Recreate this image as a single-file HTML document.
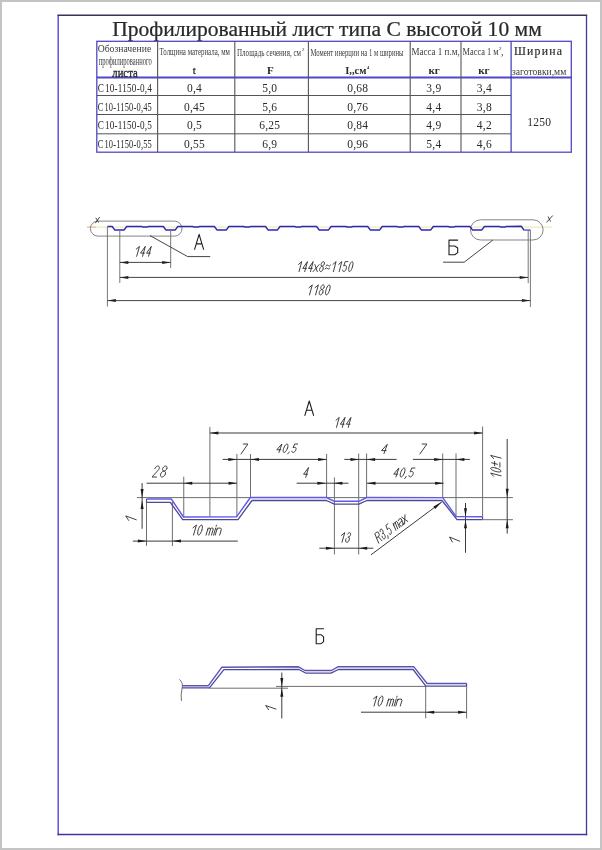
<!DOCTYPE html>
<html><head><meta charset="utf-8">
<style>
html,body{margin:0;padding:0;background:#fff;}
body{width:602px;height:850px;overflow:hidden;position:relative;}
svg{position:absolute;left:0;top:0;will-change:transform;filter:blur(0.3px);}
.s{font-family:"Liberation Serif",serif;fill:#2a2a2a;}
.d{font-family:"Liberation Sans",sans-serif;font-style:italic;fill:#333;}
</style></head><body>
<svg width="602" height="850" viewBox="0 0 602 850">
<!-- gray page border -->
<rect x="0" y="0" width="602" height="850" fill="#c4c4c4"/>
<rect x="2" y="2" width="598" height="846" fill="#fff"/>
<!-- frame -->
<line x1="58.2" y1="15" x2="58.2" y2="835.2" stroke="#5e50d8" stroke-width="1.5"/>
<line x1="586.5" y1="15" x2="586.5" y2="835.2" stroke="#3e3c98" stroke-width="1.3"/>
<line x1="57.5" y1="834.5" x2="587.2" y2="834.5" stroke="#3c35a0" stroke-width="1.4"/>
<line x1="57.5" y1="15.2" x2="587.2" y2="15.2" stroke="#3a3258" stroke-width="1.4"/>

<!-- title -->
<text class="s" x="112.2" y="36" font-size="21" textLength="429.6" lengthAdjust="spacingAndGlyphs" stroke="#111" stroke-width="0.2">Профилированный лист типа С высотой 10 мм</text>

<!-- table -->
<g stroke="#5048c8" stroke-width="1.3" fill="none">
<rect x="96.8" y="41.3" width="474.5" height="110.9"/>
<line x1="96.8" y1="77.5" x2="571.3" y2="77.5" stroke-width="2"/>
<line x1="96.8" y1="95.5" x2="511" y2="95.5" stroke="#555" stroke-width="1"/>
<line x1="96.8" y1="114.5" x2="511" y2="114.5" stroke="#555" stroke-width="1"/>
<line x1="96.8" y1="133.8" x2="511" y2="133.8" stroke="#555" stroke-width="1"/>
</g>
<g stroke="#555" stroke-width="1.1">
<line x1="157.6" y1="41.2" x2="157.6" y2="152"/>
<line x1="234.8" y1="41.2" x2="234.8" y2="152"/>
<line x1="308.4" y1="41.2" x2="308.4" y2="152"/>
<line x1="410.2" y1="41.2" x2="410.2" y2="152"/>
<line x1="461" y1="41.2" x2="461" y2="152"/>
</g>
<line x1="511.1" y1="41.2" x2="511.1" y2="152" stroke="#3c38b0" stroke-width="1.2"/>

<g class="s" font-size="11.5" letter-spacing="0.25">
<text x="97.7" y="91.6" textLength="54.3" lengthAdjust="spacingAndGlyphs">С 10-1150-0,4</text>
<text x="194.5" y="91.6" text-anchor="middle">0,4</text>
<text x="269.7" y="91.6" text-anchor="middle">5,0</text>
<text x="357.7" y="91.6" text-anchor="middle">0,68</text>
<text x="433.9" y="91.6" text-anchor="middle">3,9</text>
<text x="484.4" y="91.6" text-anchor="middle">3,4</text>
<text x="97.7" y="110.5" textLength="54.3" lengthAdjust="spacingAndGlyphs">С 10-1150-0,45</text>
<text x="194.5" y="110.5" text-anchor="middle">0,45</text>
<text x="269.7" y="110.5" text-anchor="middle">5,6</text>
<text x="357.7" y="110.5" text-anchor="middle">0,76</text>
<text x="433.9" y="110.5" text-anchor="middle">4,4</text>
<text x="484.4" y="110.5" text-anchor="middle">3,8</text>
<text x="97.7" y="129.4" textLength="54.3" lengthAdjust="spacingAndGlyphs">С 10-1150-0,5</text>
<text x="194.5" y="129.4" text-anchor="middle">0,5</text>
<text x="269.7" y="129.4" text-anchor="middle">6,25</text>
<text x="357.7" y="129.4" text-anchor="middle">0,84</text>
<text x="433.9" y="129.4" text-anchor="middle">4,9</text>
<text x="484.4" y="129.4" text-anchor="middle">4,2</text>
<text x="97.7" y="148.3" textLength="54.3" lengthAdjust="spacingAndGlyphs">С 10-1150-0,55</text>
<text x="194.5" y="148.3" text-anchor="middle">0,55</text>
<text x="269.7" y="148.3" text-anchor="middle">6,9</text>
<text x="357.7" y="148.3" text-anchor="middle">0,96</text>
<text x="433.9" y="148.3" text-anchor="middle">5,4</text>
<text x="484.4" y="148.3" text-anchor="middle">4,6</text>
<text x="539.3" y="126.4" text-anchor="middle">1250</text>
</g>
<g class="s">
<text fill="#3c3c3c" x="97.7" y="52" font-size="11" textLength="53.5" lengthAdjust="spacingAndGlyphs">Обозначение</text>
<text fill="#3c3c3c" x="98.8" y="64.6" font-size="11.5" textLength="52.9" lengthAdjust="spacingAndGlyphs">профилированного</text>
<text x="112.3" y="76.6" font-size="13" stroke="#2a2a2a" stroke-width="0.35" textLength="25.4" lengthAdjust="spacingAndGlyphs">листа</text>
<text fill="#3c3c3c" x="159.6" y="54.8" font-size="10" textLength="70.4" lengthAdjust="spacingAndGlyphs">Толщина материала, мм</text>
<text x="194.4" y="73.8" font-size="11" stroke="#2a2a2a" stroke-width="0.3" text-anchor="middle">t</text>
<text fill="#3c3c3c" x="237" y="55.5" font-size="10" textLength="64" lengthAdjust="spacingAndGlyphs">Площадь сечения, см</text>
<text x="302" y="51" font-size="5">2</text>
<text x="270.4" y="74" font-size="11" font-weight="bold" text-anchor="middle">F</text>
<text fill="#3c3c3c" x="310.5" y="55.5" font-size="10" textLength="93.1" lengthAdjust="spacingAndGlyphs">Момент инерции на 1 м ширины</text>
<text x="345.2" y="74" font-size="11" font-weight="bold" textLength="21.3" lengthAdjust="spacingAndGlyphs">I,,см</text>
<text x="366.8" y="68.5" font-size="5" font-weight="bold">4</text>
<text fill="#3c3c3c" x="411.4" y="55.2" font-size="10.3" textLength="48.3" lengthAdjust="spacingAndGlyphs">Масса 1 п.м,</text>
<text x="434.1" y="74.3" font-size="11" font-weight="bold" text-anchor="middle">кг</text>
<text fill="#3c3c3c" x="462.6" y="55.2" font-size="10.3" textLength="36" lengthAdjust="spacingAndGlyphs">Масса 1 м</text>
<text x="499" y="50" font-size="5">2</text>
<text x="501" y="55" font-size="9.5">,</text>
<text x="483.8" y="74.3" font-size="11" font-weight="bold" text-anchor="middle">кг</text>
<text x="514" y="54.9" font-size="11.8" textLength="48" lengthAdjust="spacing" stroke="#2a2a2a" stroke-width="0.15">Ширина</text>
<text fill="#3c3c3c" x="512" y="75.2" font-size="11" textLength="54.3" lengthAdjust="spacingAndGlyphs">заготовки,мм</text>
</g>
<!-- TOP VIEW -->
<line x1="87" y1="227.2" x2="552" y2="227.2" stroke="#f2eab8" stroke-width="1.2"/>
<line x1="87" y1="227.2" x2="96" y2="227.2" stroke="#e6c49a" stroke-width="1.2"/>
<g fill="none" stroke="#858585" stroke-width="1">
<path d="M97.9,221.1 L174.5,221.1 A7.5,7.5 0 0 1 174.5,236.1 L97.9,236.1 A7.5,7.5 0 0 1 97.9,221.1 Z"/>
<path d="M480.6,219.8 L533,219.8 A10.1,10.1 0 0 1 533,240 L480.6,240 A10.1,10.1 0 0 1 480.6,219.8 Z"/>
</g>
<path d="M107.40,226.50 L112.20,226.50 L114.70,229.90 L124.20,229.90 L126.70,226.50 L141.50,226.50 L142.50,226.95 L147.50,226.95 L148.50,226.50 L163.30,226.50 L165.80,229.90 L175.30,229.90 L177.80,226.50 L192.60,226.50 L193.60,226.95 L198.60,226.95 L199.60,226.50 L214.40,226.50 L216.90,229.90 L226.40,229.90 L228.90,226.50 L243.70,226.50 L244.70,226.95 L249.70,226.95 L250.70,226.50 L265.50,226.50 L268.00,229.90 L277.50,229.90 L280.00,226.50 L294.80,226.50 L295.80,226.95 L300.80,226.95 L301.80,226.50 L316.60,226.50 L319.10,229.90 L328.60,229.90 L331.10,226.50 L345.90,226.50 L346.90,226.95 L351.90,226.95 L352.90,226.50 L367.70,226.50 L370.20,229.90 L379.70,229.90 L382.20,226.50 L397.00,226.50 L398.00,226.95 L403.00,226.95 L404.00,226.50 L418.80,226.50 L421.30,229.90 L430.80,229.90 L433.30,226.50 L448.10,226.50 L449.10,226.95 L454.10,226.95 L455.10,226.50 L469.90,226.50 L472.40,229.90 L481.90,229.90 L484.40,226.50 L499.20,226.50 L500.20,226.95 L505.20,226.95 L506.20,226.50 L521.25,226.20 L523.75,229.90 L530.60,230.10" fill="none" stroke="#2c28b4" stroke-width="1.45" stroke-linejoin="round"/>
<g stroke="#777" stroke-width="1" fill="none">
<line x1="107.4" y1="227" x2="107.4" y2="306.5"/>
<line x1="119.8" y1="230" x2="119.8" y2="283"/>
<line x1="170.7" y1="230" x2="170.7" y2="268"/>
<line x1="528.2" y1="230.5" x2="528.2" y2="283.2"/>
<line x1="530.4" y1="230.5" x2="530.4" y2="307"/>
</g>
<g stroke="#444" stroke-width="1" fill="none">
<line x1="119.8" y1="262.4" x2="170.7" y2="262.4"/>
<line x1="119.8" y1="277.4" x2="528.2" y2="277.4"/>
<line x1="107.4" y1="300.6" x2="530.4" y2="300.6"/>
<polyline points="150,235.6 187.7,256.6 210.2,256.6"/>
<polyline points="492.8,240.1 464.2,262.2 443.1,262.2"/>
</g>
<g fill="#222">
<path d="M119.8,262.4 L128.30,260.9 L128.30,263.9 Z"/>
<path d="M170.7,262.4 L162.20,260.9 L162.20,263.9 Z"/>
<path d="M119.8,277.4 L128.30,275.9 L128.30,278.9 Z"/>
<path d="M528.2,277.4 L519.70,275.9 L519.70,278.9 Z"/>
<path d="M107.4,300.6 L115.90,299.1 L115.90,302.1 Z"/>
<path d="M530.4,300.6 L521.90,299.1 L521.90,302.1 Z"/>
</g>
<path d="M136.20,249.17 L139.45,246.40 L136.69,256.30M142.57,256.30 L145.33,246.40 L140.54,253.13 L144.34,253.13M148.54,256.30 L151.30,246.40 L146.51,253.13 L150.31,253.13" fill="none" stroke="#2b2b2b" stroke-width="0.9" stroke-linecap="round" stroke-linejoin="round"/>
<path d="M298.60,264.40 L301.73,261.60 L299.07,271.60M304.75,271.60 L307.41,261.60 L302.78,268.40 L306.45,268.40M310.51,271.60 L313.17,261.60 L308.54,268.40 L312.21,268.40M313.03,271.60 L319.16,264.60M314.89,264.60 L317.29,271.60M324.29,263.90 L324.40,263.19 L324.36,262.55 L324.15,262.04 L323.81,261.71 L323.37,261.60 L322.86,261.71 L322.35,262.04 L321.87,262.55 L321.48,263.19 L321.22,263.90 L321.11,264.61 L321.15,265.25 L321.36,265.76 L321.70,266.09 L322.14,266.20 L322.65,266.09 L323.16,265.76 L323.64,265.25 L324.03,264.61 L324.29,263.90M323.13,268.90 L323.27,268.07 L323.23,267.31 L323.01,266.72 L322.64,266.33 L322.14,266.20 L321.58,266.33 L321.00,266.72 L320.47,267.31 L320.02,268.07 L319.72,268.90 L319.58,269.73 L319.62,270.49 L319.84,271.08 L320.21,271.47 L320.71,271.60 L321.27,271.47 L321.85,271.08 L322.38,270.49 L322.83,269.73 L323.13,268.90M325.82,266.00 L326.94,265.00 L327.96,265.20 L328.65,265.80 L329.45,266.00 L330.57,265.00M325.03,269.00 L326.14,268.00 L327.16,268.20 L327.85,268.80 L328.65,269.00 L329.77,268.00M332.95,264.40 L336.08,261.60 L333.42,271.60M338.71,264.40 L341.84,261.60 L339.18,271.60M347.94,261.60 L345.21,261.60 L343.70,266.00 L344.69,265.50 L344.93,265.51 L345.49,265.40 L345.96,265.61 L346.30,266.11 L346.46,266.85 L346.43,267.75 L346.21,268.73 L345.83,269.69 L345.33,270.52 L344.75,271.16 L344.15,271.52 L343.59,271.59 L343.13,271.34 L342.82,270.81 L342.68,270.05M352.54,266.60 L352.87,265.05 L353.00,263.66 L352.92,262.55 L352.63,261.84 L352.17,261.60 L351.57,261.84 L350.91,262.55 L350.24,263.66 L349.63,265.05 L349.13,266.60 L348.80,268.15 L348.68,269.54 L348.76,270.65 L349.05,271.36 L349.51,271.60 L350.10,271.36 L350.76,270.65 L351.44,269.54 L352.05,268.15 L352.54,266.60" fill="none" stroke="#2b2b2b" stroke-width="0.9" stroke-linecap="round" stroke-linejoin="round"/>
<path d="M309.00,287.70 L312.30,284.90 L309.50,294.90M315.06,287.70 L318.36,284.90 L315.56,294.90M324.14,287.20 L324.26,286.49 L324.21,285.85 L323.99,285.34 L323.63,285.01 L323.16,284.90 L322.63,285.01 L322.09,285.34 L321.59,285.85 L321.18,286.49 L320.90,287.20 L320.78,287.91 L320.83,288.55 L321.05,289.06 L321.41,289.39 L321.88,289.50 L322.41,289.39 L322.95,289.06 L323.45,288.55 L323.86,287.91 L324.14,287.20M322.92,292.20 L323.06,291.37 L323.02,290.61 L322.79,290.02 L322.39,289.63 L321.88,289.50 L321.28,289.63 L320.68,290.02 L320.11,290.61 L319.65,291.37 L319.32,292.20 L319.18,293.03 L319.22,293.79 L319.45,294.38 L319.85,294.77 L320.36,294.90 L320.96,294.77 L321.56,294.38 L322.13,293.79 L322.59,293.03 L322.92,292.20M329.62,289.90 L329.97,288.35 L330.10,286.96 L330.01,285.85 L329.71,285.14 L329.22,284.90 L328.60,285.14 L327.90,285.85 L327.19,286.96 L326.55,288.35 L326.03,289.90 L325.68,291.45 L325.55,292.84 L325.64,293.95 L325.94,294.66 L326.43,294.90 L327.05,294.66 L327.75,293.95 L328.46,292.84 L329.10,291.45 L329.62,289.90" fill="none" stroke="#2b2b2b" stroke-width="0.9" stroke-linecap="round" stroke-linejoin="round"/>
<path d="M194.60,249.30 L199.10,234.30 L203.60,249.30M196.29,243.90 L201.91,243.90" fill="none" stroke="#1e1e1e" stroke-width="1.1" stroke-linecap="round" stroke-linejoin="round"/>
<path d="M457.70,240.10 L449.00,240.10 L449.00,254.70 L454.73,254.70 L457.70,252.66 L457.70,247.98 L454.73,245.94 L449.00,245.94" fill="none" stroke="#1e1e1e" stroke-width="1.1" stroke-linecap="round" stroke-linejoin="round"/>
<path d="M95.3,223.2 L99.7,217 M95.8,217.8 L98.6,222.6" stroke="#333" stroke-width="0.9" fill="none"/>
<path d="M546.4,222.5 L552.8,215.5 M548,216.5 L550.6,221.6" stroke="#333" stroke-width="0.9" fill="none"/>
<!-- SECTION A -->
<g stroke="#6e6e6e" stroke-width="1" fill="none">
<line x1="146.5" y1="499" x2="146.5" y2="545.8"/>
<line x1="172.4" y1="502" x2="172.4" y2="546"/>
<line x1="183.75" y1="476.7" x2="183.75" y2="517"/>
<line x1="209.9" y1="426.9" x2="209.9" y2="516.5"/>
<line x1="236.9" y1="454" x2="236.9" y2="516.9"/>
<line x1="250.5" y1="454" x2="250.5" y2="497.5"/>
<line x1="326.6" y1="454" x2="326.6" y2="497.5"/>
<line x1="334.4" y1="477.4" x2="334.4" y2="554.5"/>
<line x1="358.7" y1="453.5" x2="358.7" y2="554.5"/>
<line x1="366.6" y1="453.5" x2="366.6" y2="497.5"/>
<line x1="442.7" y1="453.5" x2="442.7" y2="497.7"/>
<line x1="456" y1="453.5" x2="456" y2="516.5"/>
<line x1="482.6" y1="426.5" x2="482.6" y2="516.7"/>
<line x1="136.8" y1="497.6" x2="512.9" y2="497.6"/>
<line x1="482.6" y1="519.7" x2="512.9" y2="519.7"/>
</g>
<g stroke="#3a3a3a" stroke-width="1" fill="none">
<line x1="209.9" y1="433" x2="482.6" y2="433"/>
<line x1="222.6" y1="459.4" x2="326.6" y2="459.4"/>
<line x1="344.3" y1="459.4" x2="396.6" y2="459.4"/>
<line x1="412.9" y1="459.4" x2="469.9" y2="459.4"/>
<line x1="146.5" y1="483.2" x2="237" y2="483.2"/>
<line x1="296.6" y1="483.2" x2="348.5" y2="483.2"/>
<line x1="367" y1="483.2" x2="443.6" y2="483.2"/>
<line x1="132.8" y1="541.1" x2="237.8" y2="541.1"/>
<line x1="319.3" y1="548.2" x2="373.3" y2="548.2"/>
<line x1="142.1" y1="483" x2="142.1" y2="528.8"/>
<line x1="465.5" y1="503" x2="465.5" y2="552.8"/>
<line x1="507.2" y1="439" x2="507.2" y2="533.6"/>
<line x1="371" y1="554.8" x2="441.7" y2="502"/>
</g>
<g fill="#1a1a1a">
<path d="M209.9,433 L218.40,431.5 L218.40,434.5 Z"/>
<path d="M482.6,433 L474.10,431.5 L474.10,434.5 Z"/>
<path d="M236.9,459.4 L228.40,457.9 L228.40,460.9 Z"/>
<path d="M250.5,459.4 L259.00,457.9 L259.00,460.9 Z"/>
<path d="M326.6,459.4 L318.10,457.9 L318.10,460.9 Z"/>
<path d="M359,459.4 L350.50,457.9 L350.50,460.9 Z"/>
<path d="M366.6,459.4 L375.10,457.9 L375.10,460.9 Z"/>
<path d="M442.7,459.4 L434.20,457.9 L434.20,460.9 Z"/>
<path d="M455.9,459.4 L464.40,457.9 L464.40,460.9 Z"/>
<path d="M183.75,483.2 L192.25,481.7 L192.25,484.7 Z"/>
<path d="M237,483.2 L228.50,481.7 L228.50,484.7 Z"/>
<path d="M325.9,483.2 L317.40,481.7 L317.40,484.7 Z"/>
<path d="M333.9,483.2 L342.40,481.7 L342.40,484.7 Z"/>
<path d="M367,483.2 L375.50,481.7 L375.50,484.7 Z"/>
<path d="M443.6,483.2 L435.10,481.7 L435.10,484.7 Z"/>
<path d="M146.4,541.1 L137.90,539.6 L137.90,542.6 Z"/>
<path d="M172.5,541.1 L181.00,539.6 L181.00,542.6 Z"/>
<path d="M334.4,548.2 L325.90,546.7 L325.90,549.7 Z"/>
<path d="M358.7,548.2 L367.20,546.7 L367.20,549.7 Z"/>
<path d="M142.1,497.5 L140.6,489.00 L143.6,489.00 Z"/>
<path d="M142.1,500.6 L140.6,509.10 L143.6,509.10 Z"/>
<path d="M465.5,516.7 L464.0,508.20 L467.0,508.20 Z"/>
<path d="M465.5,519.7 L464.0,528.20 L467.0,528.20 Z"/>
<path d="M507.2,497.3 L505.7,488.80 L508.7,488.80 Z"/>
<path d="M507.2,519.7 L505.7,528.20 L508.7,528.20 Z"/>
<path d="M441.7,502 L433.5,506.6 L435.2,508.9 Z"/>
</g>
<path d="M146.50,499.00 L171.30,499.00 L183.50,517.00 L236.50,516.90 L250.40,497.50 L326.50,497.50 L334.40,501.30 L358.90,501.30 L366.80,497.50 L442.70,497.60 L456.20,516.60 L482.60,516.70" fill="none" stroke="#6058ea" stroke-width="1.4" stroke-linejoin="round"/>
<path d="M146.50,502.40 L170.30,502.40 L182.70,519.60 L238.00,519.60 L252.00,500.50 L326.50,500.50 L334.40,504.20 L358.90,504.20 L366.80,500.50 L442.00,500.50 L457.00,519.60 L482.60,519.60" fill="none" stroke="#4a4a90" stroke-width="1.3" stroke-linejoin="round"/>
<path d="M146.5,499 L146.5,502.4 M482.6,516.7 L482.6,519.6" stroke="#4a4a90" stroke-width="1.1"/>
<path d="M336.00,420.20 L339.23,417.40 L336.49,427.40M342.33,427.40 L345.07,417.40 L340.31,424.20 L344.09,424.20M348.26,427.40 L351.00,417.40 L346.24,424.20 L350.02,424.20" fill="none" stroke="#2b2b2b" stroke-width="0.9" stroke-linecap="round" stroke-linejoin="round"/>
<path d="M243.24,444.00 L247.90,444.00 L241.00,454.00" fill="none" stroke="#2b2b2b" stroke-width="0.9" stroke-linecap="round" stroke-linejoin="round"/>
<path d="M278.97,452.47 L281.91,444.00 L276.80,449.76 L280.85,449.76M287.46,448.24 L287.83,446.93 L287.97,445.75 L287.87,444.81 L287.56,444.21 L287.05,444.00 L286.39,444.21 L285.66,444.81 L284.92,445.75 L284.24,446.93 L283.69,448.24 L283.33,449.55 L283.19,450.73 L283.28,451.67 L283.60,452.27 L284.11,452.47 L284.76,452.27 L285.50,451.67 L286.24,450.73 L286.92,449.55 L287.46,448.24M289.12,451.97 L288.94,452.47 L287.59,454.00M297.70,444.00 L294.68,444.00 L293.01,447.73 L294.10,447.31 L294.37,447.31 L294.99,447.22 L295.51,447.40 L295.88,447.82 L296.06,448.45 L296.03,449.22 L295.79,450.04 L295.37,450.85 L294.81,451.56 L294.17,452.10 L293.51,452.41 L292.89,452.46 L292.39,452.26 L292.04,451.81 L291.89,451.16" fill="none" stroke="#2b2b2b" stroke-width="0.9" stroke-linecap="round" stroke-linejoin="round"/>
<path d="M383.96,453.60 L387.30,444.30 L381.50,450.62 L386.10,450.62" fill="none" stroke="#2b2b2b" stroke-width="0.9" stroke-linecap="round" stroke-linejoin="round"/>
<path d="M422.17,444.00 L426.90,444.00 L419.90,454.00" fill="none" stroke="#2b2b2b" stroke-width="0.9" stroke-linecap="round" stroke-linejoin="round"/>
<path d="M154.83,468.64 L155.25,467.74 L155.89,466.94 L156.66,466.35 L157.47,466.04 L158.23,466.04 L158.84,466.35 L159.23,466.94 L159.35,467.74 L159.19,468.64 L158.76,469.54 L152.00,477.00 L156.59,477.00M166.85,468.53 L167.00,467.75 L166.94,467.04 L166.66,466.48 L166.20,466.12 L165.61,466.00 L164.93,466.12 L164.24,466.48 L163.60,467.04 L163.07,467.75 L162.72,468.53 L162.57,469.31 L162.63,470.02 L162.91,470.58 L163.36,470.94 L163.96,471.06 L164.64,470.94 L165.33,470.58 L165.97,470.02 L166.49,469.31 L166.85,468.53M165.29,474.03 L165.48,473.11 L165.42,472.28 L165.13,471.63 L164.62,471.21 L163.96,471.06 L163.21,471.21 L162.43,471.63 L161.71,472.28 L161.11,473.11 L160.70,474.03 L160.52,474.95 L160.57,475.78 L160.87,476.43 L161.37,476.85 L162.03,477.00 L162.79,476.85 L163.56,476.43 L164.28,475.78 L164.88,474.95 L165.29,474.03" fill="none" stroke="#2b2b2b" stroke-width="0.9" stroke-linecap="round" stroke-linejoin="round"/>
<path d="M305.72,477.40 L308.60,467.50 L303.60,474.23 L307.57,474.23" fill="none" stroke="#2b2b2b" stroke-width="0.9" stroke-linecap="round" stroke-linejoin="round"/>
<path d="M395.90,476.98 L398.88,468.00 L393.70,474.11 L397.81,474.11M404.52,472.49 L404.88,471.10 L405.03,469.85 L404.93,468.86 L404.61,468.22 L404.09,468.00 L403.43,468.22 L402.69,468.86 L401.93,469.85 L401.25,471.10 L400.69,472.49 L400.32,473.88 L400.18,475.13 L400.27,476.13 L400.60,476.76 L401.11,476.98 L401.78,476.76 L402.52,476.13 L403.28,475.13 L403.96,473.88 L404.52,472.49M406.19,476.44 L406.01,476.98 L404.64,478.60M414.90,468.00 L411.84,468.00 L410.15,471.95 L411.25,471.50 L411.52,471.51 L412.15,471.42 L412.68,471.61 L413.05,472.05 L413.23,472.72 L413.20,473.53 L412.96,474.41 L412.54,475.26 L411.97,476.01 L411.32,476.58 L410.65,476.91 L410.02,476.97 L409.51,476.75 L409.16,476.27 L409.00,475.59" fill="none" stroke="#2b2b2b" stroke-width="0.9" stroke-linecap="round" stroke-linejoin="round"/>
<path d="M341.50,535.32 L344.78,532.60 L342.00,542.30M347.60,534.13 L348.10,533.41 L348.71,532.88 L349.33,532.62 L349.90,532.66 L350.33,533.00 L350.58,533.59 L350.60,534.36 L350.40,535.20 L350.00,536.00 L349.45,536.67 L348.83,537.10 L348.21,537.26M348.27,537.06 L348.93,537.29 L349.35,537.94 L349.45,538.89 L349.20,539.99 L348.67,541.02 L347.93,541.83 L347.12,542.25 L346.38,542.23 L345.84,541.76 L345.59,540.92 L345.68,539.87 L346.10,538.79" fill="none" stroke="#2b2b2b" stroke-width="0.9" stroke-linecap="round" stroke-linejoin="round"/>
<path d="M193.00,527.83 L196.45,525.00 L193.52,535.10M201.90,530.05 L202.26,528.49 L202.40,527.08 L202.31,525.96 L201.99,525.25 L201.48,525.00 L200.83,525.25 L200.10,525.96 L199.36,527.08 L198.68,528.49 L198.14,530.05 L197.78,531.61 L197.63,533.02 L197.73,534.14 L198.04,534.85 L198.55,535.10 L199.20,534.85 L199.94,534.14 L200.68,533.02 L201.35,531.61 L201.90,530.05M206.07,535.10 L208.12,528.03M207.65,529.65 L209.00,528.23 L210.00,528.03 L210.59,528.84 L208.77,535.10M210.59,528.84 L211.65,528.03 L212.70,528.03 L213.23,529.04 L211.48,535.10M213.59,535.10 L215.64,528.03M216.17,526.21 L216.46,525.20M215.24,535.10 L217.29,528.03M216.82,529.65 L218.40,528.23 L220.58,528.03 L221.40,529.24 L219.70,535.10" fill="none" stroke="#2b2b2b" stroke-width="0.9" stroke-linecap="round" stroke-linejoin="round"/>
<path d="M493.59,476.30 L490.65,473.09 L501.15,475.81M495.90,468.03 L494.28,467.70 L492.81,467.56 L491.65,467.65 L490.91,467.94 L490.65,468.42 L490.91,469.02 L491.65,469.70 L492.81,470.39 L494.28,471.02 L495.90,471.53 L497.52,471.86 L498.99,471.99 L500.15,471.91 L500.89,471.61 L501.15,471.14 L500.89,470.53 L500.15,469.85 L498.99,469.17 L497.52,468.54 L495.90,468.03M491.70,462.79 L497.47,464.29M494.64,465.74 L494.64,461.37M499.89,467.10 L499.89,462.73M493.59,458.61 L490.65,455.40 L501.15,458.12" fill="none" stroke="#2b2b2b" stroke-width="0.9" stroke-linecap="round" stroke-linejoin="round"/>
<path d="M378.73,543.15 L374.75,533.65 L376.99,531.97 L378.43,532.39 L379.31,534.48 L378.83,536.34 L376.58,538.02M378.34,536.70 L381.94,540.76M380.23,531.52 L380.14,530.66 L380.25,529.90 L380.54,529.34 L380.98,529.08 L381.50,529.12 L382.04,529.48 L382.53,530.10 L382.90,530.90 L383.11,531.78 L383.12,532.63 L382.94,533.32 L382.60,533.78M382.52,533.59 L383.14,533.42 L383.84,533.73 L384.49,534.47 L384.99,535.50 L385.25,536.64 L385.21,537.71 L384.89,538.49 L384.34,538.87 L383.66,538.77 L382.97,538.21 L382.39,537.30 L382.02,536.18M387.72,535.69 L387.96,536.26 L388.11,538.39M387.94,523.80 L385.88,525.33 L387.38,529.70 L387.82,528.75 L388.01,528.62 L388.37,528.22 L388.85,528.12 L389.40,528.34 L389.96,528.84 L390.48,529.58 L390.90,530.48 L391.19,531.46 L391.31,532.41 L391.25,533.25 L391.02,533.88 L390.64,534.24 L390.15,534.30 L389.60,534.05 L389.04,533.52M395.90,530.33 L393.11,523.68M393.75,525.20 L393.83,523.39 L394.40,522.72 L395.28,523.06 L397.75,528.95M395.28,523.06 L395.52,521.88 L396.24,521.34 L397.20,521.87 L399.59,527.57M398.37,520.63 L398.89,519.36 L400.01,518.52 L401.21,518.87 L403.60,524.58M402.09,520.97 L400.16,522.40 L399.44,524.19 L400.16,525.90 L401.36,526.26 L402.64,525.30 L403.13,523.44M404.57,523.86 L404.99,514.81M401.78,517.20 L407.78,521.46" fill="none" stroke="#2b2b2b" stroke-width="0.9" stroke-linecap="round" stroke-linejoin="round"/>
<path d="M128.67,520.45 L125.70,515.95 L136.30,519.77" fill="none" stroke="#2b2b2b" stroke-width="0.9" stroke-linecap="round" stroke-linejoin="round"/>
<path d="M452.36,542.00 L449.50,537.00 L459.70,541.24" fill="none" stroke="#2b2b2b" stroke-width="0.9" stroke-linecap="round" stroke-linejoin="round"/>
<path d="M304.90,415.40 L309.25,401.00 L313.60,415.40M306.53,410.22 L311.97,410.22" fill="none" stroke="#1e1e1e" stroke-width="1.1" stroke-linecap="round" stroke-linejoin="round"/>
<!-- SECTION B -->
<g stroke="#6e6e6e" stroke-width="1" fill="none">
<line x1="209.4" y1="688.2" x2="288" y2="688.2"/>
<line x1="276" y1="686.4" x2="425.9" y2="686.4"/>
<line x1="425.7" y1="686.2" x2="425.7" y2="718.4"/>
<line x1="466.6" y1="686.2" x2="466.6" y2="718.4"/>
<path d="M179.5,679.4 Q183.5,683 182,689 Q180.5,695 181.5,700.9"/>
</g>
<g stroke="#3a3a3a" stroke-width="1" fill="none">
<line x1="281.8" y1="672.6" x2="281.8" y2="718.5"/>
<line x1="361" y1="712.2" x2="466.6" y2="712.2"/>
</g>
<g fill="#1a1a1a">
<path d="M281.8,686.4 L280.3,677.90 L283.3,677.90 Z"/>
<path d="M281.8,688.3 L280.3,696.80 L283.3,696.80 Z"/>
<path d="M425.7,712.2 L434.20,710.7 L434.20,713.7 Z"/>
<path d="M466.6,712.2 L458.10,710.7 L458.10,713.7 Z"/>
</g>
<path d="M182.20,685.70 L208.40,685.70 L221.90,667.20 L298.50,666.80 L305.00,670.50 L331.40,670.50 L337.90,666.80 L413.70,666.60 L427.10,683.50 L466.60,683.50" fill="none" stroke="#5e54b0" stroke-width="1.4" stroke-linejoin="round"/>
<path d="M182.20,687.90 L209.40,687.90 L223.90,669.60 L299.00,669.50 L306.00,673.20 L330.90,673.20 L338.40,669.50 L413.10,669.50 L425.90,686.20 L466.60,686.20" fill="none" stroke="#4c4aa0" stroke-width="1.3" stroke-linejoin="round"/>
<path d="M466.6,683.5 L466.6,686.2" stroke="#3a3494" stroke-width="1.1"/>
<path d="M373.50,698.80 L376.96,696.00 L374.02,706.00M382.43,701.00 L382.79,699.45 L382.93,698.06 L382.84,696.95 L382.52,696.24 L382.01,696.00 L381.36,696.24 L380.62,696.95 L379.88,698.06 L379.20,699.45 L378.65,701.00 L378.29,702.55 L378.15,703.94 L378.24,705.05 L378.56,705.76 L379.07,706.00 L379.73,705.76 L380.46,705.05 L381.20,703.94 L381.88,702.55 L382.43,701.00M386.62,706.00 L388.68,699.00M388.20,700.60 L389.56,699.20 L390.56,699.00 L391.15,699.80 L389.33,706.00M391.15,699.80 L392.21,699.00 L393.27,699.00 L393.81,700.00 L392.04,706.00M394.16,706.00 L396.22,699.00M396.75,697.20 L397.04,696.20M395.81,706.00 L397.87,699.00M397.40,700.60 L398.99,699.20 L401.17,699.00 L402.00,700.20 L400.29,706.00" fill="none" stroke="#2b2b2b" stroke-width="0.9" stroke-linecap="round" stroke-linejoin="round"/>
<path d="M268.53,709.70 L265.65,705.50 L275.95,709.06" fill="none" stroke="#2b2b2b" stroke-width="0.9" stroke-linecap="round" stroke-linejoin="round"/>
<path d="M323.60,628.70 L316.20,628.70 L316.20,643.70 L321.08,643.70 L323.60,641.60 L323.60,636.80 L321.08,634.70 L316.20,634.70" fill="none" stroke="#1e1e1e" stroke-width="1.1" stroke-linecap="round" stroke-linejoin="round"/>
</svg>
</body></html>
